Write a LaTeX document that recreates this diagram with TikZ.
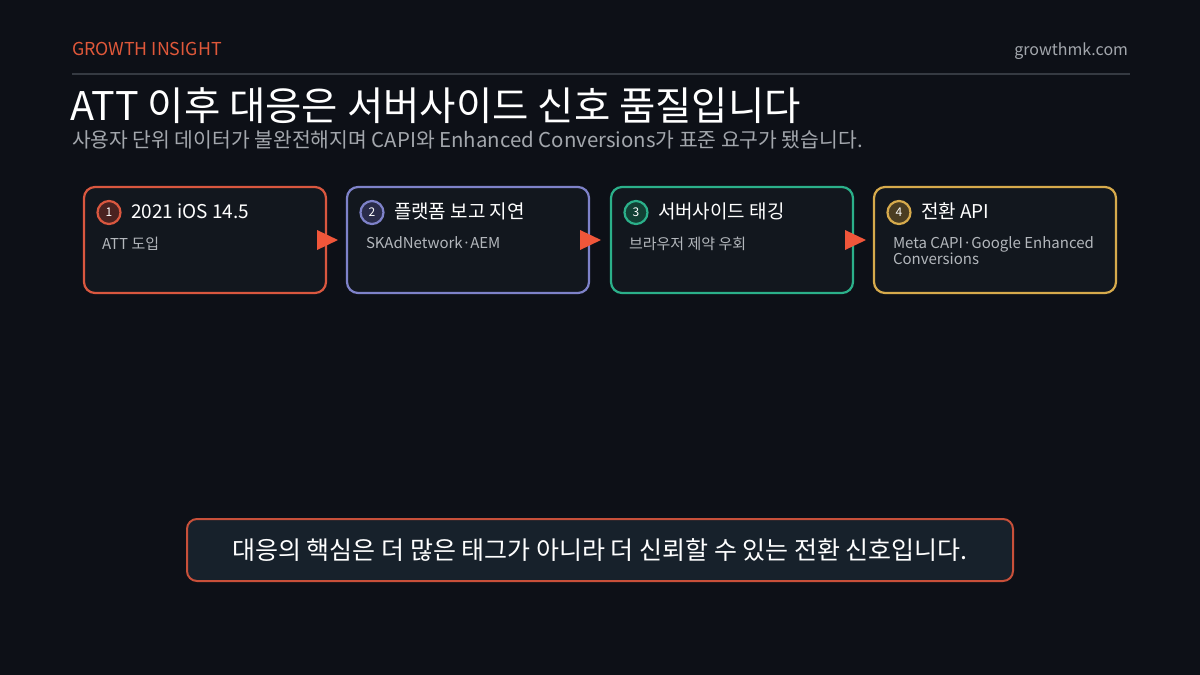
\documentclass[tikz,border=0pt]{standalone}
\usepackage{fontspec}
\setmainfont{Noto Sans CJK KR}
\begin{document}
\begin{tikzpicture}[x=1pt,y=-1pt,
  every node/.style={inner sep=0pt,outer sep=0pt},
  stepbox/.style={line width=2.2pt,rounded corners=11pt,fill=boxbg},
  numc/.style={circle,line width=2.2pt,minimum size=23pt,font=\fontsize{12}{12}\selectfont,text=white},
  btitle/.style={anchor=west,text=white,font=\fontsize{19}{19}\selectfont},
  bdesc/.style={anchor=north west,text=descgray,font=\fontsize{15}{16}\selectfont,align=left},
  arr/.style={fill=arrowred}
]
\definecolor{bg}{HTML}{0D1017}
\definecolor{boxbg}{HTML}{12171E}
\definecolor{accent}{HTML}{E0583A}
\definecolor{arrowred}{HTML}{F0563A}
\definecolor{linegray}{HTML}{353A42}
\definecolor{subgray}{HTML}{A3A7AD}
\definecolor{descgray}{HTML}{B3B7BC}
\definecolor{cred}{HTML}{D9573F}
\definecolor{cpurple}{HTML}{7E82C9}
\definecolor{cgreen}{HTML}{2BB08A}
\definecolor{cgold}{HTML}{D6AA4C}
\definecolor{fred}{HTML}{4A2220}
\definecolor{fpurple}{HTML}{2A2C4A}
\definecolor{fgreen}{HTML}{124034}
\definecolor{fgold}{HTML}{4A3D22}
\definecolor{keybg}{HTML}{17212B}
\definecolor{keyborder}{HTML}{C8503A}

\fill[bg] (0,0) rectangle (1200,675);
\useasboundingbox (0,0) rectangle (1200,675);

\node[anchor=base west,text=accent,font=\fontsize{17.8}{18}\selectfont] (kicker) at (72,55) {GROWTH INSIGHT};
\node[anchor=base east,text=subgray,font=\fontsize{16}{16}\selectfont] (site) at (1128,55) {growthmk.com};
\coordinate (rl) at (72,74);
\coordinate (rr) at (1130,74);
\draw[linegray,line width=2pt] (rl) -- (rr);

\node[anchor=base west,text=white,font=\fontsize{39.5}{40}\selectfont] (title) at (70,120) {ATT 이후 대응은 서버사이드 신호 품질입니다};
\node[anchor=base west,text=subgray,font=\fontsize{20.4}{21}\selectfont] (sub) at (72,147) {사용자 단위 데이터가 불완전해지며 CAPI와 Enhanced Conversions가 표준 요구가 됐습니다.};

% boxes
\draw[stepbox,draw=cred] (84,187) rectangle (326,293);
\draw[stepbox,draw=cpurple] (347,187) rectangle (589,293);
\draw[stepbox,draw=cgreen] (611,187) rectangle (853,293);
\draw[stepbox,draw=cgold] (874,187) rectangle (1116,293);

\node[numc,draw=cred,fill=fred] (n1) at (109,212.5) {1};
\node[numc,draw=cpurple,fill=fpurple] (n2) at (372,212.5) {2};
\node[numc,draw=cgreen,fill=fgreen] (n3) at (636,212.5) {3};
\node[numc,draw=cgold,fill=fgold] (n4) at (899,212.5) {4};

\node[btitle] (t1) at (131,211) {2021 iOS 14.5};
\node[btitle] (t2) at (394,211) {플랫폼 보고 지연};
\node[btitle] (t3) at (658,211) {서버사이드 태깅};
\node[btitle] (t4) at (921,211) {전환 API};

\node[bdesc] (d1) at (102,237) {ATT 도입};
\node[bdesc] (d2) at (366,237) {SKAdNetwork·AEM};
\node[bdesc] (d3) at (629,237) {브라우저 제약 우회};
\node[bdesc] (d4) at (893,237) {Meta CAPI·Google Enhanced\\Conversions};

% arrows
\fill[arr] (317,230) -- (338,240) -- (317,250) -- cycle;
\fill[arr] (580,230) -- (601,240) -- (580,250) -- cycle;
\fill[arr] (845,230) -- (866,240) -- (845,250) -- cycle;

% key box
\draw[line width=2pt,draw=keyborder,fill=keybg,rounded corners=10pt] (187,519) rectangle (1013,581);
\node[text=white,font=\fontsize{25}{25}\selectfont] (key) at (600,550) {대응의 핵심은 더 많은 태그가 아니라 더 신뢰할 수 있는 전환 신호입니다.};
\end{tikzpicture}
\end{document}
